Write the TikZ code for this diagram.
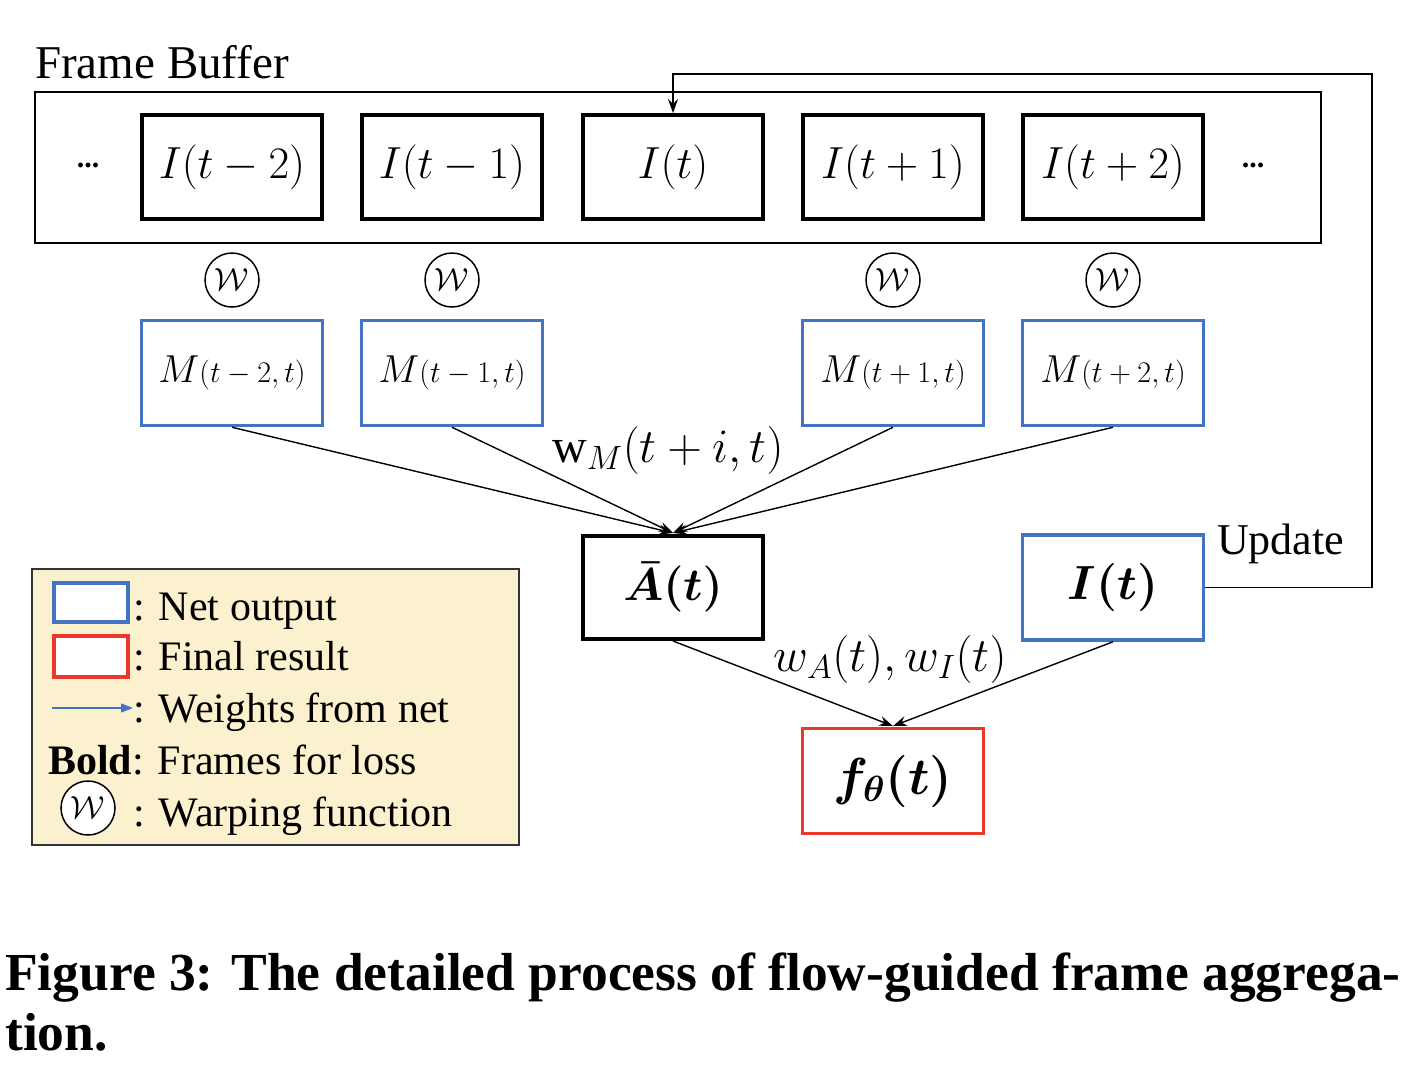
\RequirePackage{fix-cm}
\documentclass[tikz,border=0pt]{standalone}
\usepackage{amsmath}
\usepackage{fontspec}
\setmainfont{Liberation Serif}
\usetikzlibrary{arrows.meta}
\definecolor{netblue}{HTML}{4472C4}
\definecolor{finred}{HTML}{E8392B}
\definecolor{legfill}{HTML}{FCF1CF}
\begin{document}
\begin{tikzpicture}[x=1pt,y=-1pt,
  frame/.style={draw=black,line width=4pt,minimum width=180pt,minimum height=104pt,inner sep=0pt,font=\fontsize{45}{50}\selectfont},
  netbox/.style={draw=netblue,line width=3.5pt,minimum width=181pt,minimum height=105pt,inner sep=0pt},
  redbox/.style={draw=finred,line width=3.5pt,minimum width=181pt,minimum height=105pt,inner sep=0pt},
  warp/.style={draw=black,line width=1.5pt,circle,minimum size=54pt,inner sep=0pt,font=\fontsize{32}{38}\selectfont},
  conn/.style={draw=black,line width=1.4pt,-{Stealth[length=14pt,width=10pt,inset=5pt]}},
  lbl/.style={font=\fontsize{48}{54}\selectfont,inner sep=0pt},
  legtxt/.style={font=\fontsize{42}{48}\selectfont,inner sep=0pt,anchor=base west},
]
\useasboundingbox (0,0) rectangle (1410,1080);
% Frame buffer
\node[anchor=base west,inner sep=0pt,font=\fontsize{47}{52}\selectfont] (fbl) at (35,78) {Frame Buffer};
\node[draw=black,line width=2.5pt,minimum width=1286pt,minimum height=151pt,inner sep=0pt] (fb) at (678,167.5) {};
\node[font=\fontsize{30}{30}\selectfont\bfseries] (dl) at (88,165) {...};
\node[font=\fontsize{30}{30}\selectfont\bfseries] (dr) at (1253,165) {...};
\node[frame] (i2m) at (232,167) {$I(t-2)$};
\node[frame] (i1m) at (452,167) {$I(t-1)$};
\node[frame] (i0) at (673,167) {$I(t)$};
\node[frame] (i1p) at (893,167) {$I(t+1)$};
\node[frame] (i2p) at (1113,167) {$I(t+2)$};
% warping circles
\node[warp] (w2m) at (232,280) {$\mathcal{W}$};
\node[warp] (w1m) at (452,280) {$\mathcal{W}$};
\node[warp] (w1p) at (893,280) {$\mathcal{W}$};
\node[warp] (w2p) at (1113,280) {$\mathcal{W}$};
% motion boxes
\node[netbox] (m2m) at (232,373) {\fontsize{39}{44}\selectfont$M$\fontsize{30}{34}\selectfont$(t-2,t)$};
\node[netbox] (m1m) at (452,373) {\fontsize{39}{44}\selectfont$M$\fontsize{30}{34}\selectfont$(t-1,t)$};
\node[netbox] (m1p) at (893,373) {\fontsize{39}{44}\selectfont$M$\fontsize{30}{34}\selectfont$(t+1,t)$};
\node[netbox] (m2p) at (1113,373) {\fontsize{39}{44}\selectfont$M$\fontsize{30}{34}\selectfont$(t+2,t)$};
% aggregated
\node[frame,minimum height=103pt] (abar) at (673,587.5) {\fontsize{46}{52}\selectfont$\boldsymbol{\bar{A}(t)}$};
\node[netbox] (it) at (1113,587.5) {\fontsize{48}{54}\selectfont$\boldsymbol{I(t)}$};
\node[redbox] (f) at (893,781) {\fontsize{52}{58}\selectfont$\boldsymbol{f_\theta(t)}$};
% connectors to A
\coordinate (atop) at (673,533);
\draw[conn] (m2m.south) -- (atop);
\draw[conn] (m1m.south) -- (atop);
\draw[conn] (m1p.south) -- (atop);
\draw[conn] (m2p.south) -- (atop);
\node[lbl] (wm) at (668,450) {$\mathrm{w}_M(t+i,t)$};
% connectors to f
\coordinate (ftop) at (893,726);
\draw[conn] (abar.south) -- (ftop);
\draw[conn] (it.south) -- (ftop);
\node[lbl] (wai) at (890,659) {$w_A(t),w_I(t)$};
% update loop
\coordinate (u1) at (1372,587.5);
\coordinate (u2) at (1372,74);
\coordinate (u3) at (673,74);
\draw[line width=1.5pt,-{Stealth[length=14pt,width=10pt,inset=5pt]}] (it.east) -- (u1) -- (u2) -- (u3) -- (i0.north);
\node[anchor=base west,inner sep=0pt,font=\fontsize{44}{50}\selectfont] (upd) at (1217,554) {Update};
% legend
\node[draw=black!80,line width=1.5pt,fill=legfill,minimum width=487pt,minimum height=276pt,inner sep=0pt] (leg) at (275.5,707) {};
\node[draw=netblue,line width=4pt,fill=white,minimum width=74pt,minimum height=39pt,inner sep=0pt] (lb) at (91,602) {};
\node[draw=finred,line width=4pt,fill=white,minimum width=74pt,minimum height=41pt,inner sep=0pt] (lr) at (91,656) {};
\coordinate (la1) at (52,708);
\coordinate (la2) at (133,708);
\draw[draw=netblue,line width=1.2pt,-{Triangle[length=12pt,width=9pt]}] (la1) -- (la2);
\node[warp,fill=white] (lw) at (88,808) {$\mathcal{W}$};
\node[legtxt] (t1) at (133,620) {: Net output};
\node[legtxt] (t2) at (133,670) {: Final result};
\node[legtxt] (t3) at (133,722) {: Weights from net};
\node[legtxt] (t4) at (48,774) {\textbf{Bold}: Frames for loss};
\node[legtxt] (t5) at (133,826) {: Warping function};
% caption
\node[anchor=base west,inner sep=0pt,font=\fontsize{53.5}{60}\selectfont\bfseries] (cap1) at (5,990) {Figure 3: The detailed process of flow-guided frame aggrega-};
\node[anchor=base west,inner sep=0pt,font=\fontsize{53.5}{60}\selectfont\bfseries] (cap2) at (5,1050) {tion.};
\end{tikzpicture}
\end{document}
